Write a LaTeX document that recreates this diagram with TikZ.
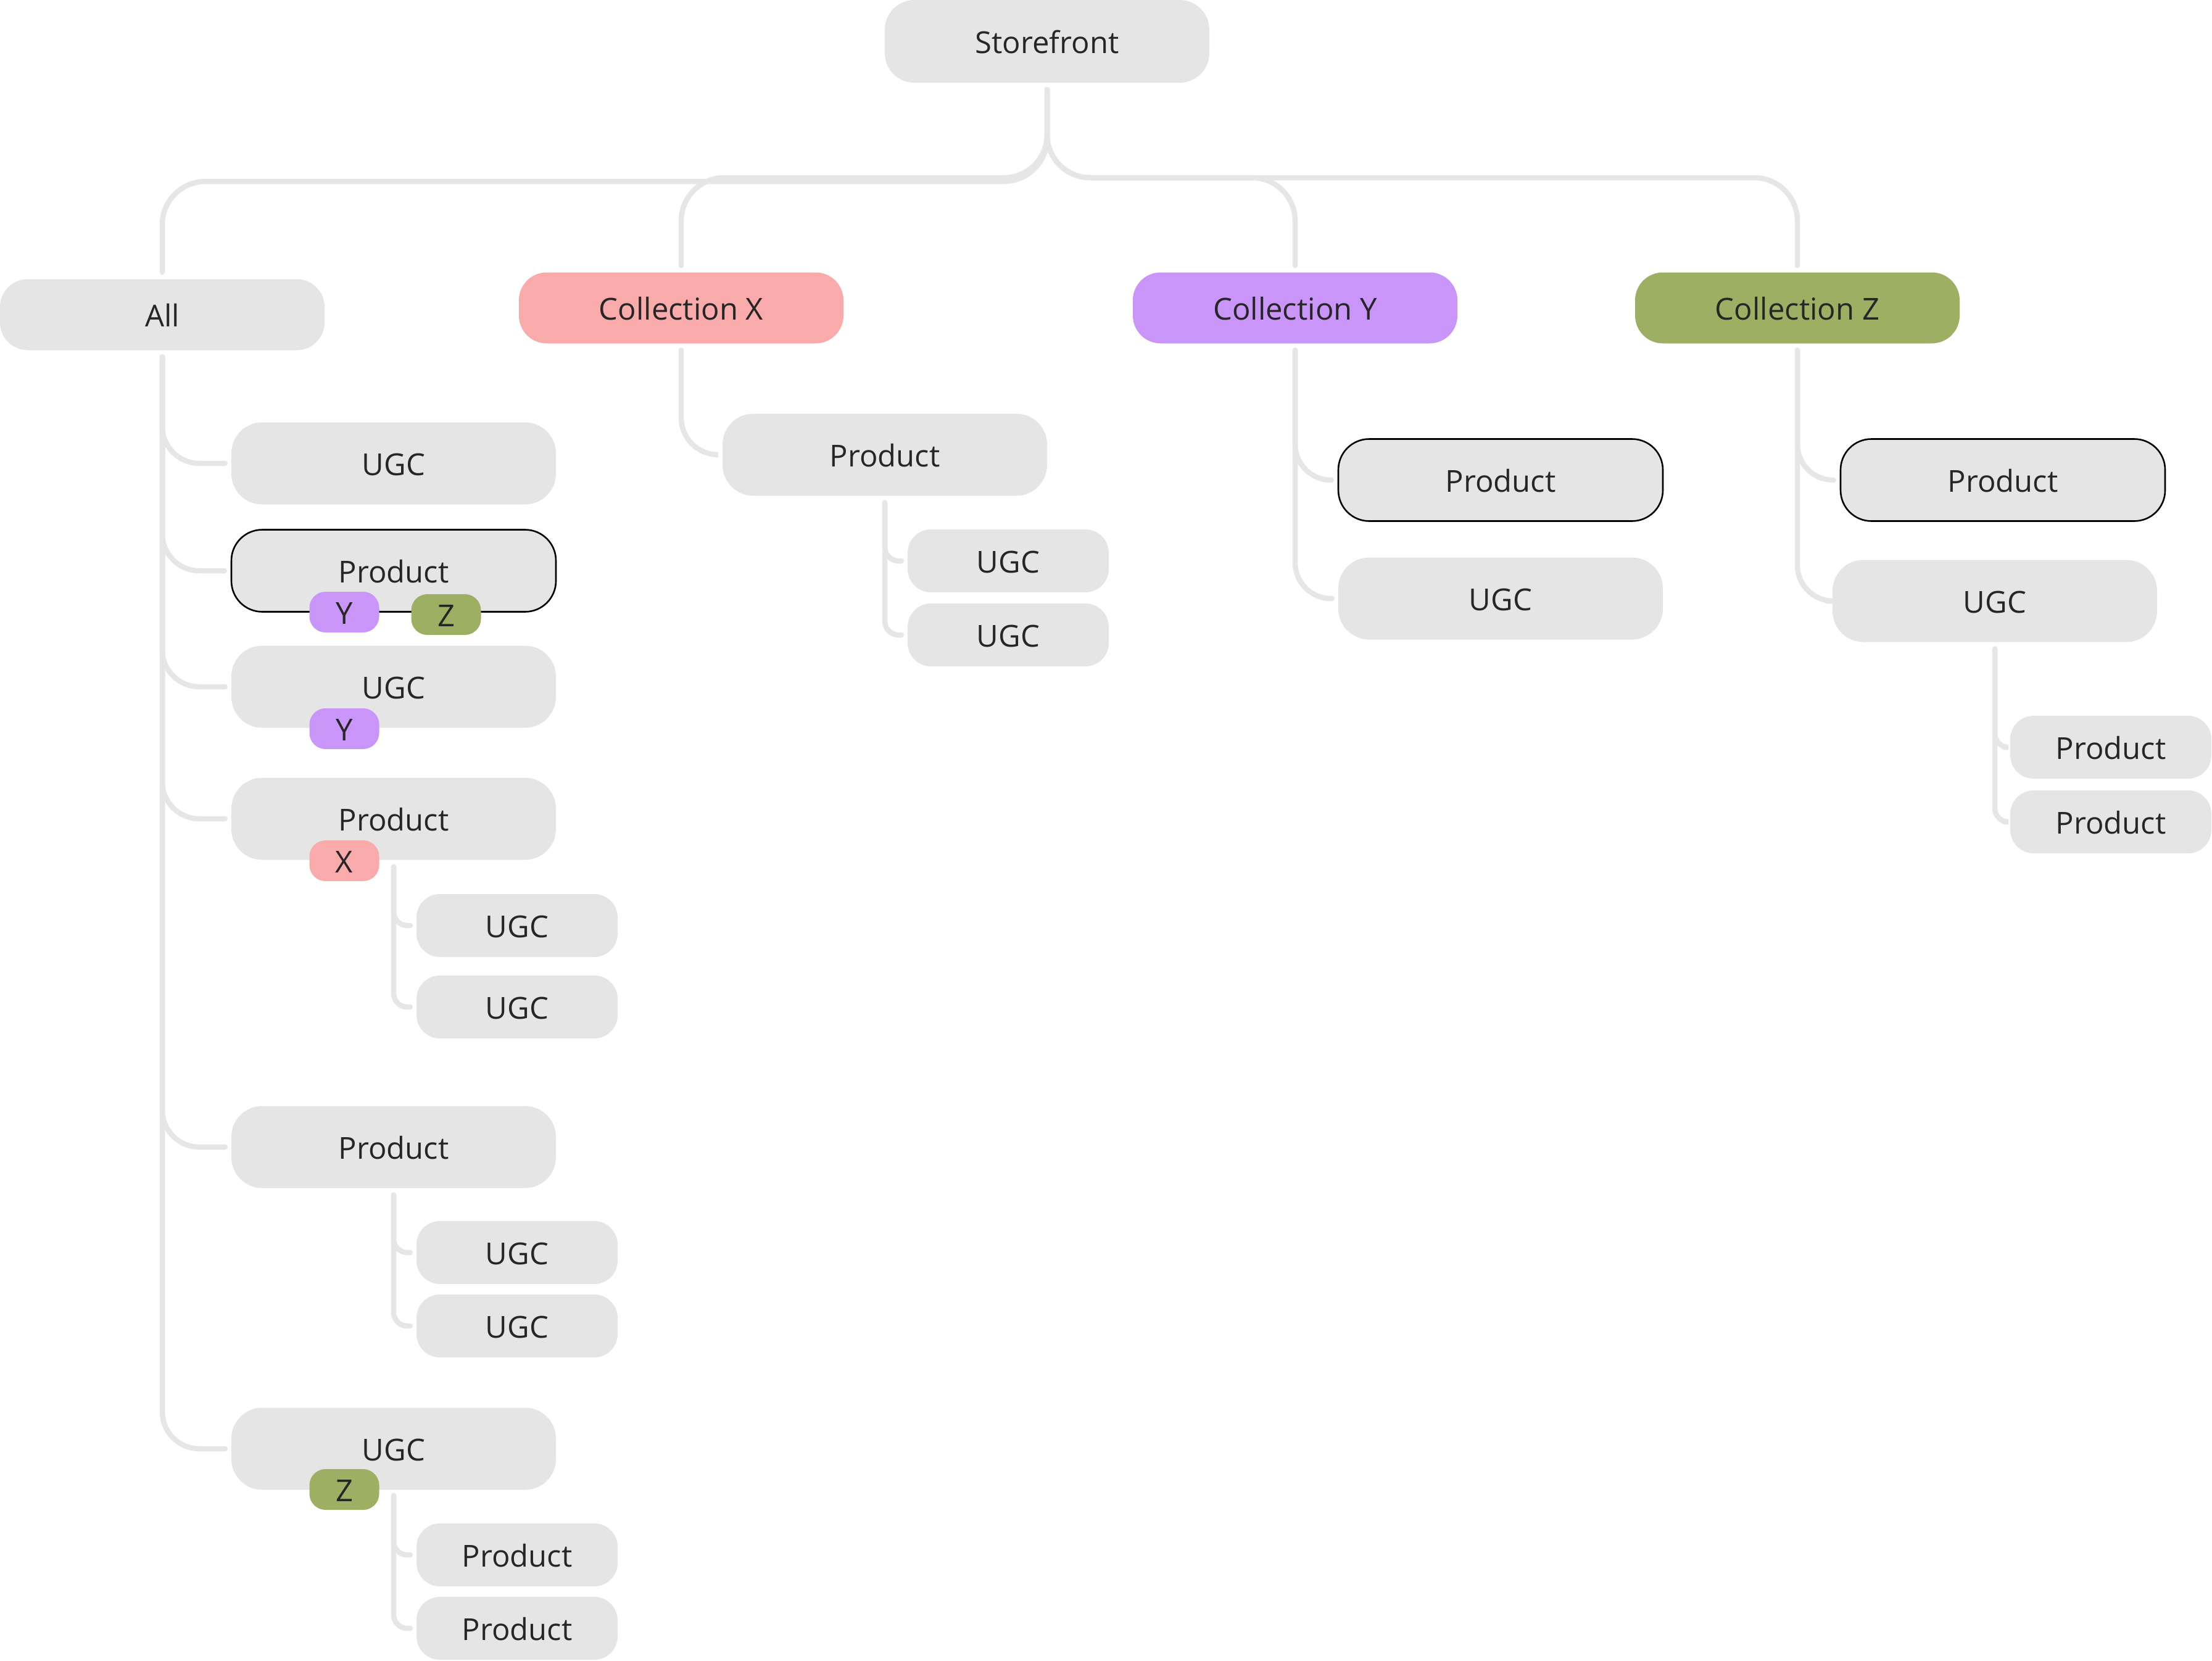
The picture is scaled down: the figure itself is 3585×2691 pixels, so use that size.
\documentclass[tikz,border=0pt]{standalone}
\usepackage{fontspec}
\setmainfont{Open Sans}
\usetikzlibrary{calc}
\definecolor{boxgray}{HTML}{E5E5E5}
\definecolor{linegray}{HTML}{E6E6E6}
\definecolor{txt}{HTML}{262626}
\definecolor{pinkX}{HTML}{F9AAAA}
\definecolor{purpleY}{HTML}{C995F9}
\definecolor{greenZ}{HTML}{9DAF62}
\begin{document}
\begin{tikzpicture}[x=1pt,y=-1pt,
  every node/.style={font=\fontsize{49}{58}\selectfont, text=txt, text height=38pt, text depth=0pt},
  box/.style={fill=boxgray, rounded corners=50pt, minimum width=526pt, minimum height=133pt, inner sep=0pt},
  topbox/.style={box, rounded corners=45pt, minimum height=115pt},
  smallbox/.style={box, rounded corners=38pt, minimum width=326pt, minimum height=102pt},
  outlined/.style={draw=black, line width=2.6pt},
  badge/.style={rounded corners=26pt, minimum width=113pt, minimum height=66pt, inner sep=0pt},
  conn/.style={draw=linegray, line width=8.5pt, line cap=round},
]
\useasboundingbox (0,0) rectangle (3585,2691);

% top level
\node[box, minimum height=134pt, rounded corners=48pt] (sf) at (1697,67) {Storefront};
\node[topbox] (all) at (263,510) {All};
\node[topbox, fill=pinkX] (cx) at (1104,499) {Collection X};
\node[topbox, fill=purpleY] (cy) at (2099,499) {Collection Y};
\node[topbox, fill=greenZ] (cz) at (2913,499) {Collection Z};

% All children
\node[box] (a1) at (638,751) {UGC};
\node[box, outlined] (a2) at (638,925) {Product};
\node[box] (a3) at (638,1113) {UGC};
\node[box] (a4) at (638,1327) {Product};
\node[box] (a5) at (638,1859) {Product};
\node[box] (a6) at (638,2348) {UGC};

\node[badge, fill=purpleY] (b2y) at (558,992) {Y};
\node[badge, fill=greenZ] (b2z) at (723,996) {Z};
\node[badge, fill=purpleY] (b3y) at (558,1181) {Y};
\node[badge, fill=pinkX] (b4x) at (558,1395) {X};
\node[badge, fill=greenZ] (b6z) at (558,2414) {Z};

\node[smallbox] (a4u1) at (838,1500) {UGC};
\node[smallbox] (a4u2) at (838,1632) {UGC};
\node[smallbox] (a5u1) at (838,2030) {UGC};
\node[smallbox] (a5u2) at (838,2149) {UGC};
\node[smallbox] (a6p1) at (838,2520) {Product};
\node[smallbox] (a6p2) at (838,2639) {Product};

% Collection X children
\node[box] (x1) at (1434,737) {Product};
\node[smallbox] (x1u1) at (1634,909) {UGC};
\node[smallbox] (x1u2) at (1634,1029) {UGC};

% Collection Y children
\node[box, outlined] (y1) at (2432,778) {Product};
\node[box] (y2) at (2432,970) {UGC};

% Collection Z children
\node[box, outlined] (z1) at (3246,778) {Product};
\node[box] (z2) at (3233,974) {UGC};
\node[smallbox] (z2p1) at (3421,1211) {Product};
\node[smallbox] (z2p2) at (3421,1332) {Product};

% connectors from Storefront
\coordinate (busA) at (0,294);
\coordinate (busX) at (0,288);
\draw[conn, rounded corners=70pt] ([yshift=-11pt]sf.south) -- (sf.south |- busA) -| ([yshift=11pt]all.north);
\draw[conn, rounded corners=70pt] ([yshift=-11pt]sf.south) -- (sf.south |- busX) -| ([yshift=11pt]cx.north);
\draw[conn, rounded corners=70pt] ([yshift=-11pt]sf.south) -- (sf.south |- busX) -| ([yshift=11pt]cy.north);
\draw[conn, rounded corners=70pt] ([yshift=-11pt]sf.south) -- (sf.south |- busX) -| ([yshift=11pt]cz.north);

% All branch
\foreach \c in {a1,a2,a3,a4,a5,a6}
  \draw[conn, rounded corners=60pt] ([yshift=-11pt]all.south) |- ([xshift=-10pt]\c.west);
\foreach \c in {a4u1,a4u2}
  \draw[conn, rounded corners=22pt] ([yshift=-11pt]a4.south) |- ([xshift=-10pt]\c.west);
\foreach \c in {a5u1,a5u2}
  \draw[conn, rounded corners=22pt] ([yshift=-11pt]a5.south) |- ([xshift=-10pt]\c.west);
\foreach \c in {a6p1,a6p2}
  \draw[conn, rounded corners=22pt] ([yshift=-9pt]a6.south) |- ([xshift=-10pt]\c.west);

% Collection X branch
\draw[conn, rounded corners=60pt] ([yshift=-11pt]cx.south) |- ([xshift=-10pt]x1.west);
\foreach \c in {x1u1,x1u2}
  \draw[conn, rounded corners=22pt] ([yshift=-11pt]x1.south) |- ([xshift=-10pt]\c.west);

% Collection Y branch
\foreach \c in {y1,y2}
  \draw[conn, rounded corners=58pt] ([yshift=-11pt]cy.south) |- ([xshift=-10pt]\c.west);

% Collection Z branch
\foreach \c in {z1,z2}
  \draw[conn, rounded corners=58pt] ([yshift=-11pt]cz.south) |- ([xshift=-10pt]\c.west);
\foreach \c in {z2p1,z2p2}
  \draw[conn, rounded corners=22pt] ([yshift=-11pt]z2.south) |- ([xshift=-10pt]\c.west);
\end{tikzpicture}
\end{document}
